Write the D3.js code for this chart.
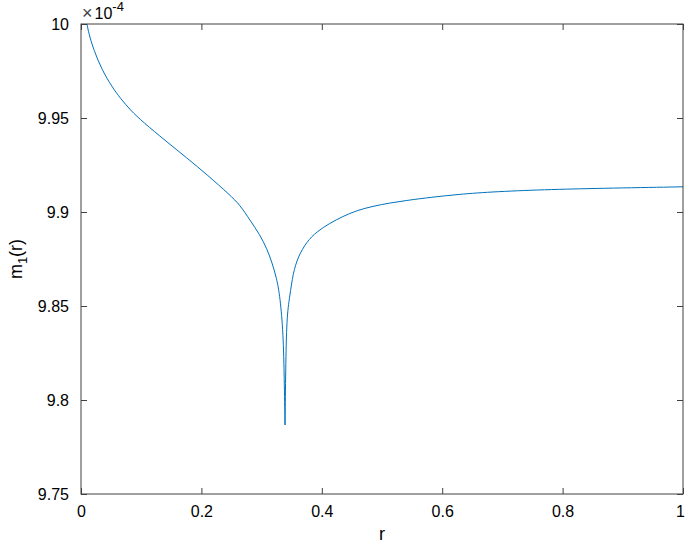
<!DOCTYPE html>
<html>
<head>
<meta charset="utf-8">
<script src="https://cdn.jsdelivr.net/npm/d3@7"></script>
<style>
  html, body { margin: 0; padding: 0; background: #fff; }
  svg { display: block; font-family: "Liberation Sans", Arial, sans-serif; }
</style>
</head>
<body>
<div id="chart"></div>
<script>
// r values and m1(r) (in units of 1e-4)
const rVals = [0.0100, 0.0128, 0.0211, 0.0349, 0.0515, 0.0653, 0.082, 0.103, 0.14, 0.176, 0.21, 0.2475, 0.2641,
  0.2807, 0.2973, 0.3085, 0.3168, 0.3251, 0.3306, 0.3360, 0.3377, 0.3389,
  0.3400, 0.3417, 0.3467, 0.3522, 0.3605, 0.3749, 0.3915, 0.4131, 0.4352, 0.458, 0.485, 0.513,
  0.54, 0.568, 0.62, 0.679, 0.77, 0.862, 1.0];
const mVals = [10.000, 9.9951, 9.9862, 9.9755, 9.9666, 9.9605, 9.9542, 9.9478, 9.9380, 9.9287, 9.9197, 9.9090, 9.9037,
  9.8957, 9.8878, 9.8807, 9.8736, 9.8647, 9.8550, 9.8356, 9.8106, 9.7867,
  9.8160, 9.8443, 9.8550, 9.8674, 9.8762, 9.8842, 9.8895, 9.8940, 9.8977, 9.9008, 9.9031, 9.9048,
  9.9061, 9.9073, 9.9092, 9.9107, 9.9119, 9.9126, 9.9134];
const xTicks = [0, 0.2, 0.4, 0.6, 0.8, 1];
const yTicks = [9.75, 9.8, 9.85, 9.9, 9.95, 10];

const W = 685, H = 546, M = { top: 24, right: 2, bottom: 52, left: 81 };
const iW = W - M.left - M.right;
const iH = H - M.top - M.bottom;
const AXIS = '#404040';
const FONT = '"Liberation Sans", Arial, sans-serif';

const svg = d3.select('#chart').append('svg')
  .attr('width', W).attr('height', H);

const g = svg.append('g').attr('transform', `translate(${M.left},${M.top})`);

const x = d3.scaleLinear().domain([0, 1]).range([0, iW]);
const y = d3.scaleLinear().domain([9.75, 10]).range([iH, 0]);

const data = rVals.map((r, i) => ({ r, m: mVals[i] }));
// split at the cusp so the smoothing keeps the sharp minimum
const iMin = d3.minIndex(data, d => d.m);
const branches = [data.slice(0, iMin + 1), data.slice(iMin)];

g.append('defs').append('clipPath').attr('id', 'clip')
  .append('rect').attr('width', iW).attr('height', iH);

const line = d3.line().x(d => x(d.r)).y(d => y(d.m)).curve(d3.curveBasis);
g.selectAll('.branch').data(branches).join('path')
  .attr('class', 'branch')
  .attr('clip-path', 'url(#clip)')
  .attr('fill', 'none').attr('stroke', '#0072BD').attr('stroke-width', 1)
  .attr('d', line);

const style = ax => ax
  .call(a => a.select('.domain').remove())
  .call(a => a.selectAll('line').attr('stroke', AXIS))
  .call(a => a.selectAll('text').attr('fill', '#000').attr('font-size', 16).attr('font-family', FONT));

g.append('g').attr('transform', `translate(0,${iH})`)
  .call(d3.axisBottom(x).tickValues(xTicks).tickFormat(d3.format('')).tickSizeInner(-6).tickSizeOuter(0).tickPadding(12))
  .call(style)
  .call(a => a.selectAll('text').filter(d => d === 1).attr('dx', -3));
g.append('g')
  .call(d3.axisTop(x).tickValues(xTicks).tickFormat('').tickSizeInner(-6).tickSizeOuter(0))
  .call(style);
g.append('g')
  .call(d3.axisLeft(y).tickValues(yTicks).tickFormat(d3.format('')).tickSizeInner(-6).tickSizeOuter(0).tickPadding(12))
  .call(style);
g.append('g').attr('transform', `translate(${iW},0)`)
  .call(d3.axisRight(y).tickValues(yTicks).tickFormat('').tickSizeInner(-6).tickSizeOuter(0))
  .call(style);

g.append('rect').attr('width', iW).attr('height', iH)
  .attr('fill', 'none').attr('stroke', AXIS).attr('stroke-width', 1);

// exponent label
const ex = svg.append('text').attr('x', M.left + 1).attr('y', 19)
  .attr('font-size', 16).attr('fill', '#000');
ex.append('tspan').attr('fill', '#404040').attr('font-size', 18).text('\u00d7');
ex.append('tspan').attr('dx', 2).text('10');
ex.append('tspan').attr('dy', -8).attr('font-size', 13).text('-4');

svg.append('text')
  .attr('x', M.left + iW / 2).attr('y', 540)
  .attr('text-anchor', 'middle').attr('font-size', 18).text('r');

const yl = svg.append('text')
  .attr('transform', `translate(22,${M.top + iH / 2}) rotate(-90)`)
  .attr('text-anchor', 'middle').attr('font-size', 18);
yl.append('tspan').text('m');
yl.append('tspan').attr('dy', 5).attr('font-size', 13).text('1');
yl.append('tspan').attr('dy', -5).text('(r)');
</script>
</body>
</html>
